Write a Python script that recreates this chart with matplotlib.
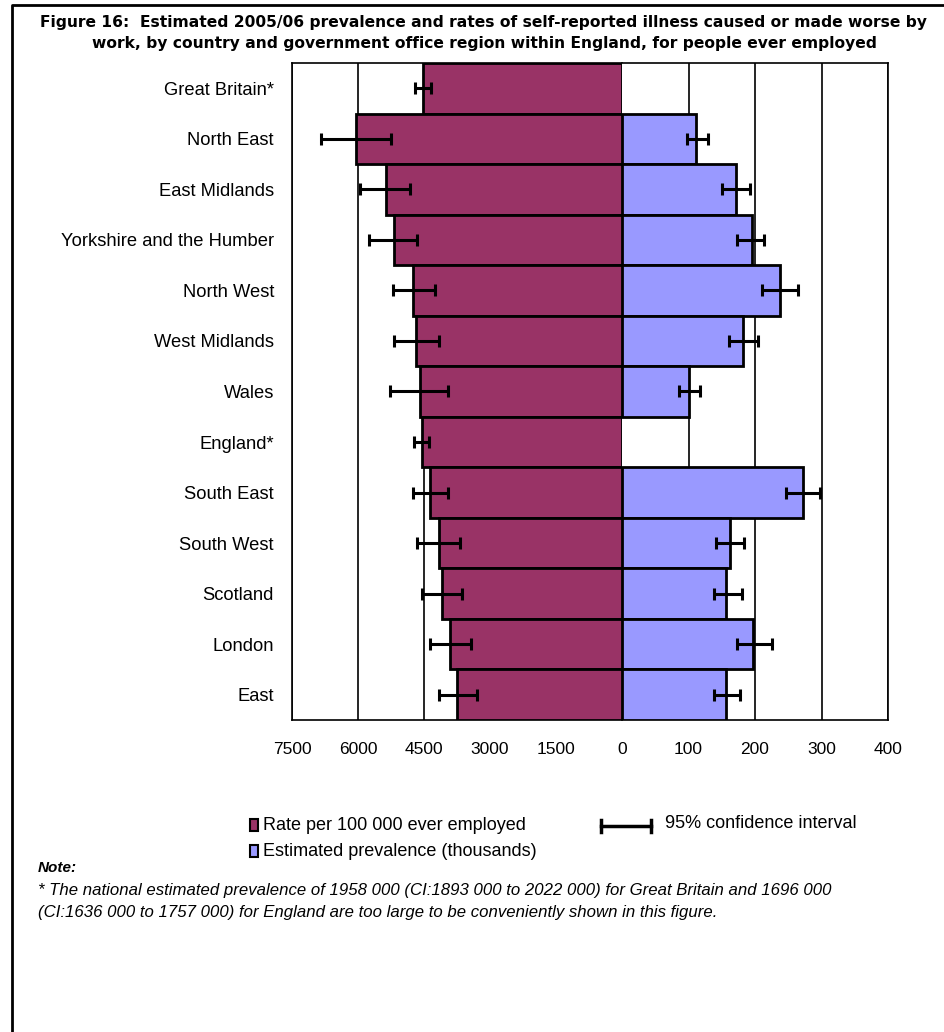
import numpy as np
import matplotlib as mpl
mpl.use('Agg')
from matplotlib import pyplot as plt
from matplotlib.lines import Line2D
from matplotlib.patches import Rectangle

# data
regions = ['Great Britain*', 'North East', 'East Midlands', 'Yorkshire and the Humber',
           'North West', 'West Midlands', 'Wales', 'England*', 'South East',
           'South West', 'Scotland', 'London', 'East']
rate = [4520, 6040, 5360, 5180, 4740, 4680, 4590, 4550, 4360, 4170, 4100, 3920, 3740]
rate_lo = [4350, 5250, 4820, 4670, 4250, 4160, 3950, 4390, 3960, 3680, 3630, 3440, 3290]
rate_hi = [4700, 6830, 5950, 5740, 5210, 5180, 5270, 4720, 4740, 4650, 4550, 4360, 4170]
prev = [np.nan, 112, 171, 195, 237, 182, 100, np.nan, 272, 162, 157, 197, 157]
prev_lo = [np.nan, 98, 151, 173, 211, 161, 86, np.nan, 246, 142, 139, 173, 139]
prev_hi = [np.nan, 129, 192, 214, 265, 204, 117, np.nan, 297, 184, 181, 225, 177]

rate_ticks = [7500, 6000, 4500, 3000, 1500, 0]
prev_ticks = [100, 200, 300, 400]

maroon = '#993366'
lilac = '#9999ff'

W, H = 944, 1032
plt.rcParams['font.family'] = ['Liberation Sans', 'DejaVu Sans']
fig = plt.figure(figsize=(W / 100, H / 100), dpi=100)


def fx(px):
    return px / W


def fy(py):
    return 1 - py / H


x_left, x_zero, x_right = 292, 622, 888
y_top, y_bot = 63, 720
ax1 = fig.add_axes([fx(x_left), fy(y_bot), fx(x_zero - x_left), fy(y_top) - fy(y_bot)])
ax2 = fig.add_axes([fx(x_zero), fy(y_bot), fx(x_right - x_zero), fy(y_top) - fy(y_bot)])

ypos = np.arange(len(regions))
rate = np.array(rate)
prev = np.array(prev)
err_kw = dict(fmt='none', ecolor='black', elinewidth=2.2, capsize=4.5, capthick=2.2, zorder=4)

# left half: rate
ax1.barh(ypos, rate, height=1.0, color=maroon, edgecolor='black', linewidth=2, zorder=3)
ax1.errorbar(rate, ypos, xerr=[rate - np.array(rate_lo), np.array(rate_hi) - rate], **err_kw)
ax1.set_xlim(7500, 0)
ax1.set_xticks(rate_ticks)
ax1.set_xticklabels([str(t) for t in rate_ticks])

# right half: prevalence (no bars for GB / England)
ok = ~np.isnan(prev)
ax2.barh(ypos[ok], prev[ok], height=1.0, color=lilac, edgecolor='black', linewidth=2, zorder=3)
ax2.errorbar(prev[ok], ypos[ok],
             xerr=[prev[ok] - np.array(prev_lo)[ok], np.array(prev_hi)[ok] - prev[ok]], **err_kw)
ax2.set_xlim(0, 400)
ax2.set_xticks(prev_ticks)
ax2.set_xticklabels([str(t) for t in prev_ticks])

for ax in (ax1, ax2):
    ax.set_ylim(len(regions) - 0.5, -0.5)
    ax.grid(axis='x', color='black', linewidth=1.2, zorder=0)
    ax.set_axisbelow(True)
    ax.tick_params(axis='x', length=0, pad=16, labelsize=12.5)
    for s in ax.spines.values():
        s.set_linewidth(1.2)

ax1.set_yticks(ypos)
ax1.set_yticklabels(regions)
ax1.tick_params(axis='y', length=0, pad=13, labelsize=13.2)
ax1.spines['right'].set_visible(False)
ax2.spines['left'].set_visible(False)
ax2.set_yticks([])

# title
fig.text(fx(484), fy(15), 'Figure 16:  Estimated 2005/06 prevalence and rates of self-reported illness caused or made worse by\n'
         'work, by country and government office region within England, for people ever employed',
         ha='center', va='top', fontsize=11.2, fontweight='bold', family='DejaVu Sans', linespacing=1.5)

# legend drawn by hand
for yy, col, lab in [(825, maroon, 'Rate per 100 000 ever employed'),
                     (851, lilac, 'Estimated prevalence (thousands)')]:
    fig.add_artist(Rectangle((fx(250), fy(yy + 6)), fx(8), fy(yy - 6) - fy(yy + 6),
                             facecolor=col, edgecolor='black', linewidth=1.5))
    fig.text(fx(263), fy(yy), lab, ha='left', va='center', fontsize=13)
fig.add_artist(Line2D([fx(601), fx(651)], [fy(826), fy(826)], color='black', linewidth=2.5))
for xx in (601, 651):
    fig.add_artist(Line2D([fx(xx), fx(xx)], [fy(820), fy(832)], color='black', linewidth=2.5))
fig.text(fx(665), fy(824), '95% confidence interval', ha='left', va='center', fontsize=13)

# note
fig.text(fx(38), fy(868), 'Note:', ha='left', va='center', fontsize=11, fontweight='bold', style='italic')
fig.text(fx(38), fy(890), '* The national estimated prevalence of 1958 000 (CI:1893 000 to 2022 000) for Great Britain and 1696 000',
         ha='left', va='center', fontsize=12.1, style='italic')
fig.text(fx(38), fy(912), '(CI:1636 000 to 1757 000) for England are too large to be conveniently shown in this figure.',
         ha='left', va='center', fontsize=12.1, style='italic')

# frame round the figure (left and top edges)
fig.add_artist(Line2D([fx(12), fx(12), fx(W + 5)], [fy(H + 5), fy(5), fy(5)], color='black', linewidth=2))

fig.savefig('out.png', dpi=100)
